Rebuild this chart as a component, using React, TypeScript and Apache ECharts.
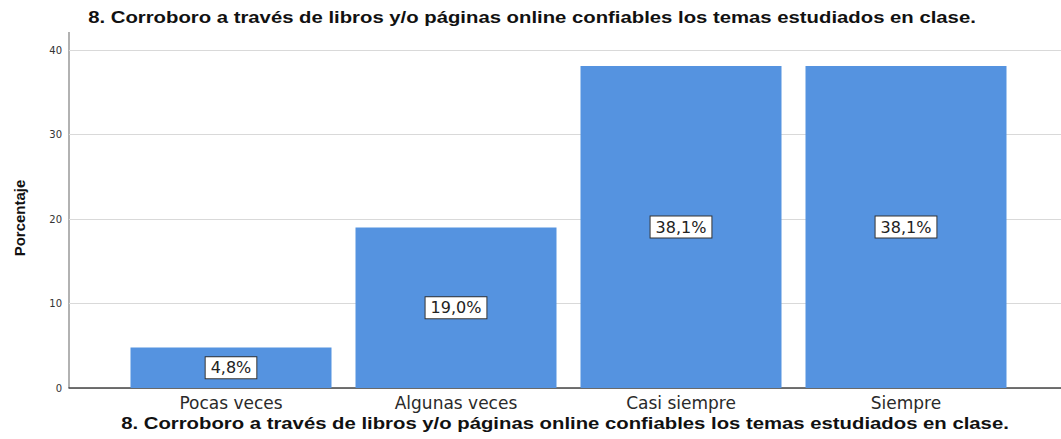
import React, { useEffect, useRef } from "react";
import * as echarts from "echarts";

const categories = ["Pocas veces", "Algunas veces", "Casi siempre", "Siempre"];
const values = [4.8, 19.0, 38.1, 38.1];
const yTicks = [0, 10, 20, 30, 40];
const titleText = "8. Corroboro a través de libros y/o páginas online confiables los temas estudiados en clase.";
const yName = "Porcentaje";

export default function App() {
  const ref = useRef<HTMLDivElement>(null);
  useEffect(() => {
    if (!ref.current) return;
    const chart = echarts.init(ref.current, null, { renderer: "svg" });
    const top = 50;
    const bottom = 51;
    const titleStyle = {
      text: titleText,
      fontSize: 16,
      fontWeight: "bold",
      fill: "#111",
      textAlign: "center",
      textVerticalAlign: "middle",
      fontFamily: "Liberation Sans, Arial, sans-serif",
    };
    chart.setOption({
      animation: false,
      backgroundColor: "#ffffff",
      textStyle: { fontFamily: "DejaVu Sans, sans-serif" },
      grid: [
        { left: 69, right: 0, top, bottom },
        { left: 118.5, width: 900, top, bottom },
      ],
      xAxis: [
        {
          gridIndex: 0,
          type: "value",
          min: 0,
          max: 1,
          axisLine: { show: true, lineStyle: { color: "#444", width: 1.5 } },
          axisTick: { show: false },
          axisLabel: { show: false },
          splitLine: { show: false },
        },
        {
          gridIndex: 1,
          type: "category",
          data: categories,
          axisLine: { show: false },
          axisTick: { show: false },
          axisLabel: { color: "#2a2a2a", fontSize: 17, margin: 6, fontFamily: "DejaVu Sans, sans-serif" },
          splitLine: { show: false },
        },
      ],
      yAxis: [
        {
          gridIndex: 0,
          type: "value",
          min: yTicks[0],
          max: yTicks[yTicks.length - 1],
          interval: 10,
          axisLine: { show: false },
          axisTick: { show: false },
          axisLabel: { color: "#333", fontSize: 10, margin: 7, fontFamily: "DejaVu Sans, sans-serif" },
          splitLine: { show: true, lineStyle: { color: "#d9d9d9", width: 1 } },
        },
        {
          gridIndex: 1,
          type: "value",
          min: yTicks[0],
          max: yTicks[yTicks.length - 1],
          show: false,
          splitLine: { show: false },
        },
      ],
      series: [
        {
          type: "bar",
          xAxisIndex: 1,
          yAxisIndex: 1,
          data: values,
          barWidth: 201,
          itemStyle: { color: "#5593e0" },
          label: {
            show: true,
            position: "inside",
            formatter: (p: any) => p.value.toFixed(1).replace(".", ",") + "%",
            color: "#222",
            fontSize: 16,
            fontFamily: "DejaVu Sans, sans-serif",
            backgroundColor: "#ffffff",
            borderColor: "#333",
            borderWidth: 1,
            padding: [3, 5, 2, 5],
          },
        },
      ],
      graphic: [
        {
          type: "line",
          shape: { x1: 69, y1: 32, x2: 69, y2: 388 },
          style: { stroke: "#999", lineWidth: 1.5 },
        },
        {
          type: "text",
          x: 532,
          y: 17,
          scaleX: 1.27,
          style: titleStyle,
        },
        {
          type: "text",
          x: 565,
          y: 423,
          scaleX: 1.27,
          style: titleStyle,
        },
        {
          type: "text",
          x: 19,
          y: 218,
          rotation: Math.PI / 2,
          style: {
            text: yName,
            fontSize: 15,
            fontWeight: "bold",
            fill: "#111",
            textAlign: "center",
            textVerticalAlign: "middle",
            fontFamily: "Liberation Sans, Arial, sans-serif",
          },
        },
      ],
    });
    return () => chart.dispose();
  }, []);
  return (
    <div
      ref={ref}
      style={{ position: "fixed", left: 0, top: 0, width: 1061, height: 439 }}
    />
  );
}
